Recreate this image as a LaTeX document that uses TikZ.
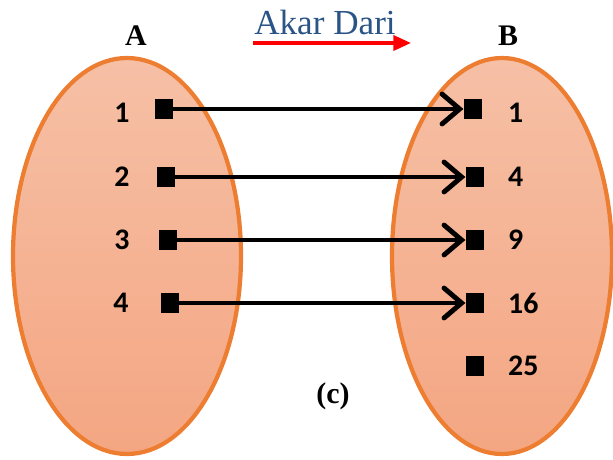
\documentclass[tikz,border=0pt]{standalone}
\usepackage{fontspec}
\setmainfont{Liberation Serif}
\newfontfamily\titlefont{Liberation Serif}
\newfontfamily\digitfont{Carlito}
\usetikzlibrary{arrows.meta}

\definecolor{setline}{HTML}{ED7D31}
\definecolor{settop}{HTML}{F6C0A6}
\definecolor{setbottom}{HTML}{F4A682}
\definecolor{titleblue}{HTML}{2A5485}

\tikzset{
  setoval/.style={draw=setline, line width=2.4pt, top color=settop, bottom color=setbottom},
  elem/.style={fill=black, minimum width=10.5pt, minimum height=11.5pt, inner sep=0pt},
  elemlabel/.style={font=\digitfont\bfseries\fontsize{17}{17}\selectfont},
  maps/.style={line width=2.8pt, -{Straight Barb[length=10pt, width=17pt, line width=2.8pt, line cap=round]}},
  setname/.style={font=\titlefont\bfseries\fontsize{17}{17}\selectfont}
}

\begin{document}
\begin{tikzpicture}[x=0.02cm, y=-0.02cm]
\useasboundingbox (0,0) rectangle (613,460);
% The two sets
\path[setoval] (127,256) ellipse [x radius=114, y radius=198];
\path[setoval] (502,256) ellipse [x radius=110, y radius=198];
% Names of the sets and of the relation
\node[setname] (nameA) at (136,36) {A};
\node[setname] (nameB) at (508,36) {B};
\node[text=titleblue, font=\titlefont\fontsize{20}{20}\selectfont] (rel) at (325,22) {Akar Dari};
\coordinate (relstart) at (253,43);
\coordinate (relend) at (411,43);
\draw[red, line width=2pt, -{Triangle[length=10pt, width=8.5pt]}] (relstart) -- (relend);
% Elements of A
\node[elem] (a1) at (164,109) {};
\node[elem] (a2) at (166,177) {};
\node[elem] (a3) at (168,240) {};
\node[elem] (a4) at (170,303) {};
\node[elemlabel] at (122,113) {1};
\node[elemlabel] at (122,177) {2};
\node[elemlabel] at (122,240) {3};
\node[elemlabel] at (121,303) {4};
% Elements of B
\node[elem] (b1) at (473,109) {};
\node[elem] (b2) at (475,177) {};
\node[elem] (b3) at (475,240) {};
\node[elem] (b4) at (475,303) {};
\node[elem] (b5) at (475,366) {};
\node[elemlabel, anchor=west] at (502,113) {1};
\node[elemlabel, anchor=west] at (502,177) {4};
\node[elemlabel, anchor=west] at (502,240) {9};
\node[elemlabel, anchor=west] at (502,303) {16};
\node[elemlabel, anchor=west] at (502,366) {25};
% The mapping
\draw[maps] (a1.center) -- (b1.west);
\draw[maps] (a2.center) -- (b2.west);
\draw[maps] (a3.center) -- (b3.west);
\draw[maps] (a4.center) -- (b4.west);
% Caption
\node[setname] (caption) at (333,396) {(c)};
\end{tikzpicture}
\end{document}
